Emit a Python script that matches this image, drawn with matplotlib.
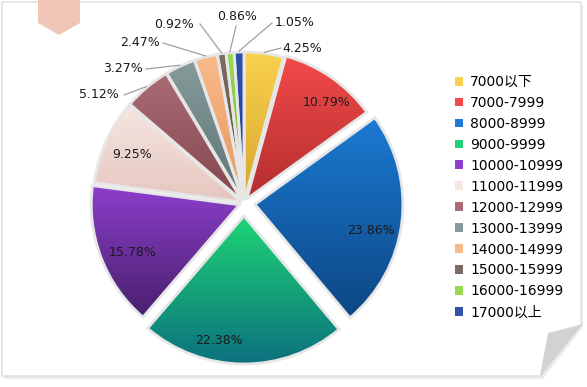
import numpy as np
import matplotlib
matplotlib.use("Agg")
import matplotlib.pyplot as plt
from matplotlib.patches import Polygon, Patch
from matplotlib.colors import to_rgb

plt.rcParams['font.family'] = ['DejaVu Sans', 'Noto Sans CJK SC']

# data
categories = ['7000以下', '7000-7999', '8000-8999', '9000-9999', '10000-10999',
              '11000-11999', '12000-12999', '13000-13999', '14000-14999',
              '15000-15999', '16000-16999', '17000以上']
shares = [4.25, 10.79, 23.86, 22.38, 15.78, 9.25, 5.12, 3.27, 2.47, 0.92, 0.86, 1.05]

# styling: (top colour, bottom colour) for the vertical gradient
top_colors = ['#fad24e', '#f24a4a', '#1c7ad2', '#1ed474', '#8c3ecc', '#f6e6e2',
              '#aa6c74', '#869a9a', '#f9ba8a', '#7c6c62', '#9ada52', '#3252aa']
bot_colors = ['#d6a62e', '#b42e2e', '#0c4784', '#0c727e', '#48206c', '#e6c6be',
              '#84464e', '#5e7676', '#e6965e', '#584840', '#6eae2e', '#1e3a86']
# explode offsets in pixels (pie adds them unscaled)
explode = [3, 5, 11, 13, 5, 3, 3, 3, 3, 3, 3, 3]

# label layout in pixel coords (x, y from top-left); None -> no leader line
label_pos = [(302, 48), (327, 102), (371, 231), (219, 340), (133, 253), (132, 155),
             (99, 95), (123, 69), (140, 43), (174, 24), (237, 16), (295, 23)]
knees = [(281, 48), None, None, None, None, None,
         (124, 95), (146, 69), (163, 43), (200, 24), (236, 26), (272, 23)]

W, H = 587, 387
fig = plt.figure(figsize=(W / 100, H / 100), dpi=100)
ax = fig.add_axes([0, 0, 1, 1])
ax.axis('off')

# page frame with curled corner
ax.add_patch(Polygon([(4, 5), (583, 5), (583, 327), (543, 379), (4, 379)],
                     closed=True, fc='#ececec', ec='none', zorder=0))
ax.add_patch(Polygon([(2, 2), (581, 2), (581, 325), (541, 376), (2, 376)],
                     closed=True, fc='white', ec='#dddddd', lw=1, zorder=0.5))
ax.add_patch(Polygon([(548, 333), (583, 324), (540, 376)],
                     closed=True, fc='#d2d2d2', ec='none', zorder=0.6))
ax.add_patch(Polygon([(38, 0), (80, 0), (80, 23), (59, 35), (38, 23)],
                     closed=True, fc='#efc6b8', ec='none', zorder=0.7))

cx, cy, r = 244, 203, 148
wedges, _ = ax.pie(shares, colors=top_colors, startangle=-90, counterclock=True,
                   center=(cx, cy), radius=r, explode=explode, frame=True,
                   wedgeprops=dict(edgecolor='#e6e6e6', linewidth=2))

for w, c1, c2 in zip(wedges, top_colors, bot_colors):
    bb = w.get_path().get_extents()
    t = np.linspace(0, 1, 64)[:, None, None]
    grad = (1 - t) * np.array(to_rgb(c1)) + t * np.array(to_rgb(c2))
    im = ax.imshow(grad, extent=(bb.x0, bb.x1, bb.y1, bb.y0), origin='upper',
                   aspect='auto', interpolation='bilinear', zorder=1.5)
    im.set_clip_path(w)
    w.set_facecolor('none')
    w.set_zorder(2)

for w, v, pos, knee in zip(wedges, shares, label_pos, knees):
    ax.text(pos[0], pos[1], f'{v:.2f}%', ha='center', va='center',
            fontsize=9, color='#1a1a1a', zorder=4)
    if knee is not None:
        mid = np.deg2rad((w.theta1 + w.theta2) / 2)
        ax_, ay_ = w.center[0] + (r + 1) * np.cos(mid), w.center[1] + (r + 1) * np.sin(mid)
        ax.plot([ax_, knee[0]], [ay_, knee[1]], color='#a0a0a0', lw=0.9, zorder=3)

handles = [Patch(facecolor=c, edgecolor='none') for c in top_colors]
ax.legend(handles, categories, loc='upper left', bbox_to_anchor=(455, 75),
          bbox_transform=ax.transData, frameon=False, fontsize=10,
          labelspacing=0.5, handlelength=0.6, handleheight=0.6,
          handletextpad=0.5, borderpad=0, borderaxespad=0)

ax.set_xlim(0, W)
ax.set_ylim(H, 0)
ax.set_aspect('equal')

fig.savefig('out.png', dpi=100)
